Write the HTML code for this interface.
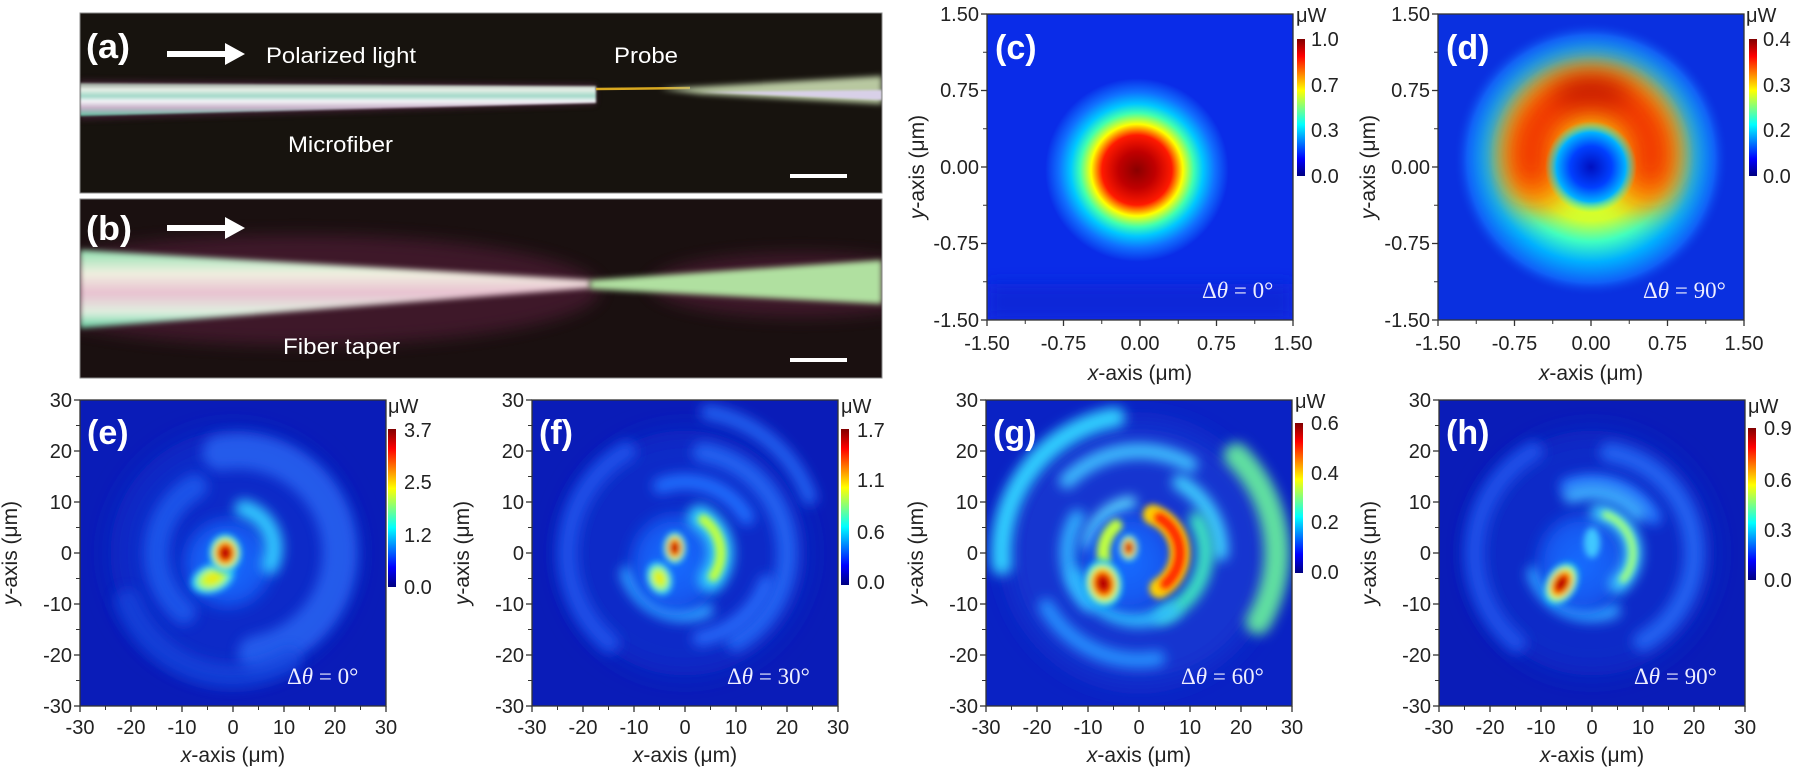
<!DOCTYPE html>
<html><head><meta charset="utf-8"><style>
html,body{margin:0;padding:0;background:#fff;width:1801px;height:773px;overflow:hidden}
svg{display:block}
text{font-family:"Liberation Sans",Arial,sans-serif}
.tk{font-size:20px;fill:#222}
.lab{font-size:21px;fill:#222}
.pl{font-size:34px;font-weight:bold;fill:#fff}
.dt{font-family:"Liberation Serif",serif;font-size:23px;fill:#eef}
.ph{font-size:22px;fill:#fff}
</style></head><body>
<svg id="s" width="1801" height="773" viewBox="0 0 1801 773" xmlns="http://www.w3.org/2000/svg">
<defs>
<linearGradient id="jet" x1="0" y1="0" x2="0" y2="1">
<stop offset="0" stop-color="#800000"/><stop offset=".125" stop-color="#ff0000"/><stop offset=".375" stop-color="#ffff00"/><stop offset=".625" stop-color="#00ffff"/><stop offset=".875" stop-color="#0000ff"/><stop offset="1" stop-color="#000080"/>
</linearGradient>
<radialGradient id="hot"><stop offset="0" stop-color="#800000"/><stop offset=".25" stop-color="#d00000"/><stop offset=".45" stop-color="#ff5000"/><stop offset=".6" stop-color="#ffff00"/><stop offset=".75" stop-color="#40ffc0"/><stop offset=".9" stop-color="#00a0ff"/><stop offset="1" stop-color="#00a0ff" stop-opacity="0"/></radialGradient>
<radialGradient id="warm"><stop offset="0" stop-color="#ffe000"/><stop offset=".45" stop-color="#c0ff40"/><stop offset=".75" stop-color="#30e0ff"/><stop offset="1" stop-color="#00a0ff" stop-opacity="0"/></radialGradient>
<radialGradient id="cg"><stop offset="0" stop-color="#8a0000"/><stop offset=".2" stop-color="#c00000"/><stop offset=".38" stop-color="#ff1a00"/><stop offset=".5" stop-color="#ffff00"/><stop offset=".62" stop-color="#40ffb0"/><stop offset=".72" stop-color="#00c8ff"/><stop offset=".85" stop-color="#1070ff"/><stop offset="1" stop-color="#0a2ce8"/></radialGradient>
<radialGradient id="dg"><stop offset="0" stop-color="#ffff00"/><stop offset=".45" stop-color="#d0ff30"/><stop offset=".6" stop-color="#40ffc0"/><stop offset=".75" stop-color="#00b0ff"/><stop offset=".9" stop-color="#1060f8"/><stop offset="1" stop-color="#0a30e0" stop-opacity="0"/></radialGradient>
<radialGradient id="hole"><stop offset="0" stop-color="#0010c0"/><stop offset=".45" stop-color="#0040ff"/><stop offset=".75" stop-color="#00b0ff"/><stop offset="1" stop-color="#40ffc0" stop-opacity="0"/></radialGradient>
<radialGradient id="halo"><stop offset="0" stop-color="#1a6cff"/><stop offset=".7" stop-color="#1458f0"/><stop offset="1" stop-color="#1458f0" stop-opacity="0"/></radialGradient>
<linearGradient id="mf" x1="0" y1="0" x2="0" y2="1"><stop offset="0" stop-color="#909890"/><stop offset=".2" stop-color="#e8f0e8"/><stop offset=".4" stop-color="#a0d8c8"/><stop offset=".55" stop-color="#f4f4f8"/><stop offset=".75" stop-color="#c8b0c8"/><stop offset="1" stop-color="#60c0a0"/></linearGradient>
<linearGradient id="tp" x1="0" y1="0" x2="0" y2="1"><stop offset="0" stop-color="#90e0b0"/><stop offset=".3" stop-color="#f0f0e0"/><stop offset=".55" stop-color="#e8c0d0"/><stop offset=".8" stop-color="#e0f0e0"/><stop offset="1" stop-color="#60d0a0"/></linearGradient>
<filter id="b1" x="-50%" y="-50%" width="200%" height="200%"><feGaussianBlur stdDeviation="1"/></filter>
<filter id="b3" x="-50%" y="-50%" width="200%" height="200%"><feGaussianBlur stdDeviation="3"/></filter>
<filter id="b8" x="-50%" y="-50%" width="200%" height="200%"><feGaussianBlur stdDeviation="8"/></filter>
<filter id="fs" filterUnits="userSpaceOnUse" x="-40" y="-40" width="80" height="80"><feGaussianBlur stdDeviation="1.2"/></filter>
<filter id="fl" filterUnits="userSpaceOnUse" x="-40" y="-40" width="80" height="80"><feGaussianBlur stdDeviation="2.5"/></filter>
<filter id="fm" filterUnits="userSpaceOnUse" x="-40" y="-40" width="80" height="80"><feGaussianBlur stdDeviation="0.6"/></filter>
<filter id="ts" filterUnits="userSpaceOnUse" x="-2" y="-2" width="4" height="4"><feGaussianBlur stdDeviation="0.07"/></filter>
<filter id="tm" filterUnits="userSpaceOnUse" x="-2" y="-2" width="4" height="4"><feGaussianBlur stdDeviation="0.13"/></filter>
<clipPath id="cp"><rect x="0" y="0" width="306" height="306"/></clipPath>
<clipPath id="cpa"><rect x="80" y="13" width="802" height="180"/></clipPath>
<clipPath id="cpb"><rect x="80" y="199" width="802" height="179"/></clipPath>
</defs>

<!-- Photo (a) -->
<g clip-path="url(#cpa)">
<rect x="80" y="13" width="802" height="180" fill="#17130e"/>
<polygon points="80,80 596,84 596,105 80,120" fill="#502040" opacity=".6" filter="url(#b3)"/>
<polygon points="80,83 596,86 596,103 80,116" fill="url(#mf)" filter="url(#b1)"/>
<line x1="596" y1="89" x2="690" y2="88" stroke="#d8a820" stroke-width="2.5"/>
<polygon points="660,89 882,76 882,104 700,94" fill="#b8c8a0" filter="url(#b3)"/>
<polygon points="700,92 882,90 882,100" fill="#d8d0e8" filter="url(#b1)"/>
</g>
<rect x="80" y="13" width="802" height="180" fill="none" stroke="#888" stroke-width="1"/>
<text class="pl" x="86" y="58" textLength="44" lengthAdjust="spacingAndGlyphs">(a)</text>
<path d="M167,51 h58 v-8 l20,11 l-20,11 v-8 h-58z" fill="#fff"/>
<text class="ph" x="266" y="63" textLength="150" lengthAdjust="spacingAndGlyphs">Polarized light</text>
<text class="ph" x="614" y="63" textLength="64" lengthAdjust="spacingAndGlyphs">Probe</text>
<text class="ph" x="288" y="152" textLength="105" lengthAdjust="spacingAndGlyphs">Microfiber</text>
<rect x="790" y="174" width="57" height="4" fill="#fff"/>

<!-- Photo (b) -->
<g clip-path="url(#cpb)">
<rect x="80" y="199" width="802" height="179" fill="#1a1010"/>
<ellipse cx="300" cy="290" rx="300" ry="55" fill="#6a2048" opacity=".45" filter="url(#b8)"/>
<ellipse cx="800" cy="285" rx="150" ry="32" fill="#6a2048" opacity=".45" filter="url(#b8)"/>
<polygon points="80,250 590,280 590,288 80,328" fill="url(#tp)" filter="url(#b3)"/>
<polygon points="590,280 882,260 882,304 590,289" fill="#b0e0a0" filter="url(#b3)"/>
</g>
<rect x="80" y="199" width="802" height="179" fill="none" stroke="#888" stroke-width="1"/>
<text class="pl" x="86" y="240" textLength="46" lengthAdjust="spacingAndGlyphs">(b)</text>
<path d="M167,225 h58 v-8 l20,11 l-20,11 v-8 h-58z" fill="#fff"/>
<text class="ph" x="283" y="354" textLength="117" lengthAdjust="spacingAndGlyphs">Fiber taper</text>
<rect x="790" y="358" width="57" height="4" fill="#fff"/>

<!-- Panel c -->
<g transform="translate(987,14)">
<g clip-path="url(#cp)">
<rect width="306" height="306" fill="#0a2ce8"/>
<rect y="270" width="306" height="36" fill="#0828d8" filter="url(#b8)"/>
<g transform="translate(153,153) scale(102,-102)">
<circle cx="-0.03" cy="-0.03" r="0.9" fill="url(#cg)"/>
</g>
</g>
<text class="pl" x="8" y="45">(c)</text>
<text class="dt" x="215" y="284">Δ<tspan font-style="italic">θ</tspan> = 0°</text>
<g class="tk" text-anchor="end"><text x="-8" y="7">1.50</text><text x="-8" y="83">0.75</text><text x="-8" y="160">0.00</text><text x="-8" y="236">-0.75</text><text x="-8" y="313">-1.50</text></g>
<g class="tk" text-anchor="middle"><text x="0" y="336">-1.50</text><text x="76.5" y="336">-0.75</text><text x="153" y="336">0.00</text><text x="229.5" y="336">0.75</text><text x="306" y="336">1.50</text></g>
<text class="lab" x="153" y="366" text-anchor="middle"><tspan font-style="italic">x</tspan>-axis (μm)</text>
<text class="lab" transform="translate(-63,153) rotate(-90)" text-anchor="middle"><tspan font-style="italic">y</tspan>-axis (μm)</text>
<rect x="310" y="25" width="8" height="137" fill="url(#jet)"/>
<text class="tk" x="309" y="8" font-size="18">μW</text>
<g class="tk"><text x="324" y="32">1.0</text><text x="324" y="78">0.7</text><text x="324" y="123">0.3</text><text x="324" y="169">0.0</text></g>
</g>

<!-- Panel d -->
<g transform="translate(1438,14)">
<g clip-path="url(#cp)">
<rect width="306" height="306" fill="#0a30e0"/>
<g transform="translate(153,153) scale(102,-102)">
<circle cx="0" cy="0.08" r="1.35" fill="url(#dg)"/>
<path id="cres" d="" fill="none" stroke="#ff9a00" stroke-width="0.62" stroke-linecap="round" filter="url(#tm)"/>
<path id="cres2" d="" fill="none" stroke="#f03000" stroke-width="0.38" stroke-linecap="round" filter="url(#tm)"/>
<path id="cres3" d="" fill="none" stroke="#a00000" stroke-width="0.14" stroke-linecap="round" filter="url(#tm)"/>
<circle cx="0" cy="0" r="0.45" fill="url(#hole)"/>
</g>
</g>
<text class="pl" x="8" y="45">(d)</text>
<text class="dt" x="205" y="284">Δ<tspan font-style="italic">θ</tspan> = 90°</text>
<g class="tk" text-anchor="end"><text x="-8" y="7">1.50</text><text x="-8" y="83">0.75</text><text x="-8" y="160">0.00</text><text x="-8" y="236">-0.75</text><text x="-8" y="313">-1.50</text></g>
<g class="tk" text-anchor="middle"><text x="0" y="336">-1.50</text><text x="76.5" y="336">-0.75</text><text x="153" y="336">0.00</text><text x="229.5" y="336">0.75</text><text x="306" y="336">1.50</text></g>
<text class="lab" x="153" y="366" text-anchor="middle"><tspan font-style="italic">x</tspan>-axis (μm)</text>
<text class="lab" transform="translate(-63,153) rotate(-90)" text-anchor="middle"><tspan font-style="italic">y</tspan>-axis (μm)</text>
<rect x="311" y="25" width="8" height="137" fill="url(#jet)"/>
<text class="tk" x="308" y="8" font-size="18">μW</text>
<g class="tk"><text x="325" y="32">0.4</text><text x="325" y="78">0.3</text><text x="325" y="123">0.2</text><text x="325" y="169">0.0</text></g>
</g>

<!-- Bottom panels -->
<g id="pe" transform="translate(80,400)">
<g clip-path="url(#cp)"><rect width="306" height="306" fill="#0a1cb8"/><g class="hm" transform="translate(153,153) scale(5.1,-5.1)"></g></g>
<text class="pl" x="7" y="44">(e)</text>
<text class="dt" x="207" y="284">Δ<tspan font-style="italic">θ</tspan> = 0°</text>
<rect x="308" y="29" width="8" height="158" fill="url(#jet)"/>
<text class="tk" x="308" y="13" font-size="18">μW</text>
<g class="tk"><text x="324" y="37">3.7</text><text x="324" y="89">2.5</text><text x="324" y="142">1.2</text><text x="324" y="194">0.0</text></g>
</g>
<g id="pf" transform="translate(532,400)">
<g clip-path="url(#cp)"><rect width="306" height="306" fill="#0a1cb8"/><g class="hm" transform="translate(153,153) scale(5.1,-5.1)"></g></g>
<text class="pl" x="7" y="44">(f)</text>
<text class="dt" x="195" y="284">Δ<tspan font-style="italic">θ</tspan> = 30°</text>
<rect x="309" y="29" width="8" height="156" fill="url(#jet)"/>
<text class="tk" x="309" y="13" font-size="18">μW</text>
<g class="tk"><text x="325" y="37">1.7</text><text x="325" y="87">1.1</text><text x="325" y="139">0.6</text><text x="325" y="189">0.0</text></g>
</g>
<g id="pg" transform="translate(986,400)">
<g clip-path="url(#cp)"><rect width="306" height="306" fill="#0a22c4"/><g class="hm" transform="translate(153,153) scale(5.1,-5.1)"></g></g>
<text class="pl" x="7" y="44">(g)</text>
<text class="dt" x="195" y="284">Δ<tspan font-style="italic">θ</tspan> = 60°</text>
<rect x="309" y="23" width="8" height="150" fill="url(#jet)"/>
<text class="tk" x="309" y="8" font-size="18">μW</text>
<g class="tk"><text x="325" y="30">0.6</text><text x="325" y="80">0.4</text><text x="325" y="129">0.2</text><text x="325" y="179">0.0</text></g>
</g>
<g id="ph" transform="translate(1439,400)">
<g clip-path="url(#cp)"><rect width="306" height="306" fill="#0a1cb8"/><g class="hm" transform="translate(153,153) scale(5.1,-5.1)"></g></g>
<text class="pl" x="7" y="44">(h)</text>
<text class="dt" x="195" y="284">Δ<tspan font-style="italic">θ</tspan> = 90°</text>
<rect x="309" y="28" width="8" height="152" fill="url(#jet)"/>
<text class="tk" x="309" y="13" font-size="18">μW</text>
<g class="tk"><text x="325" y="35">0.9</text><text x="325" y="87">0.6</text><text x="325" y="137">0.3</text><text x="325" y="187">0.0</text></g>
</g>

<!-- bottom axis labels -->
<g id="bl">
<g transform="translate(80,400)" class="tk"><g text-anchor="end"><text x="-8" y="7">30</text><text x="-8" y="58">20</text><text x="-8" y="109">10</text><text x="-8" y="160">0</text><text x="-8" y="211">-10</text><text x="-8" y="262">-20</text><text x="-8" y="313">-30</text></g><g text-anchor="middle"><text x="0" y="334">-30</text><text x="51" y="334">-20</text><text x="102" y="334">-10</text><text x="153" y="334">0</text><text x="204" y="334">10</text><text x="255" y="334">20</text><text x="306" y="334">30</text></g></g>
<g transform="translate(532,400)" class="tk"><g text-anchor="end"><text x="-8" y="7">30</text><text x="-8" y="58">20</text><text x="-8" y="109">10</text><text x="-8" y="160">0</text><text x="-8" y="211">-10</text><text x="-8" y="262">-20</text><text x="-8" y="313">-30</text></g><g text-anchor="middle"><text x="0" y="334">-30</text><text x="51" y="334">-20</text><text x="102" y="334">-10</text><text x="153" y="334">0</text><text x="204" y="334">10</text><text x="255" y="334">20</text><text x="306" y="334">30</text></g></g>
<g transform="translate(986,400)" class="tk"><g text-anchor="end"><text x="-8" y="7">30</text><text x="-8" y="58">20</text><text x="-8" y="109">10</text><text x="-8" y="160">0</text><text x="-8" y="211">-10</text><text x="-8" y="262">-20</text><text x="-8" y="313">-30</text></g><g text-anchor="middle"><text x="0" y="334">-30</text><text x="51" y="334">-20</text><text x="102" y="334">-10</text><text x="153" y="334">0</text><text x="204" y="334">10</text><text x="255" y="334">20</text><text x="306" y="334">30</text></g></g>
<g transform="translate(1439,400)" class="tk"><g text-anchor="end"><text x="-8" y="7">30</text><text x="-8" y="58">20</text><text x="-8" y="109">10</text><text x="-8" y="160">0</text><text x="-8" y="211">-10</text><text x="-8" y="262">-20</text><text x="-8" y="313">-30</text></g><g text-anchor="middle"><text x="0" y="334">-30</text><text x="51" y="334">-20</text><text x="102" y="334">-10</text><text x="153" y="334">0</text><text x="204" y="334">10</text><text x="255" y="334">20</text><text x="306" y="334">30</text></g></g>
<g class="lab" text-anchor="middle">
<text x="233" y="762"><tspan font-style="italic">x</tspan>-axis (μm)</text>
<text x="685" y="762"><tspan font-style="italic">x</tspan>-axis (μm)</text>
<text x="1139" y="762"><tspan font-style="italic">x</tspan>-axis (μm)</text>
<text x="1592" y="762"><tspan font-style="italic">x</tspan>-axis (μm)</text>
<text transform="translate(17,553) rotate(-90)"><tspan font-style="italic">y</tspan>-axis (μm)</text>
<text transform="translate(469,553) rotate(-90)"><tspan font-style="italic">y</tspan>-axis (μm)</text>
<text transform="translate(923,553) rotate(-90)"><tspan font-style="italic">y</tspan>-axis (μm)</text>
<text transform="translate(1376,553) rotate(-90)"><tspan font-style="italic">y</tspan>-axis (μm)</text>
</g>
</g>
<g id="axes"></g>
</svg>
<script>
var NS="http://www.w3.org/2000/svg";
function arcD(cx,cy,r,a0,a1){var t0=a0*Math.PI/180,t1=a1*Math.PI/180;
var x0=cx+r*Math.cos(t0),y0=cy+r*Math.sin(t0),x1=cx+r*Math.cos(t1),y1=cy+r*Math.sin(t1);
var L=Math.abs(a1-a0)>180?1:0,S=a1>a0?1:0;return "M"+x0+","+y0+" A"+r+","+r+" 0 "+L+" "+S+" "+x1+","+y1;}
function el(p,tag,at){var e=document.createElementNS(NS,tag);for(var k in at)e.setAttribute(k,at[k]);p.appendChild(e);return e;}
function A(g,cx,cy,r,a0,a1,col,w,f,op){el(g,"path",{d:arcD(cx,cy,r,a0,a1),fill:"none",stroke:col,"stroke-width":w,"stroke-linecap":"round",filter:"url(#"+(f||"fs")+")",opacity:op||1});}
function E(g,cx,cy,rx,ry,fill,rot,f){var e=el(g,"ellipse",{cx:cx,cy:cy,rx:rx,ry:ry,fill:fill});if(rot)e.setAttribute("transform","rotate("+rot+" "+cx+" "+cy+")");if(f)e.setAttribute("filter","url(#"+f+")");}
document.getElementById("cres").setAttribute("d",arcD(0,0.12,0.6,205,-25));
document.getElementById("cres2").setAttribute("d",arcD(0,0.12,0.6,195,-15));
document.getElementById("cres3").setAttribute("d",arcD(0,0.15,0.62,115,65));
// e
var g=document.querySelector("#pe .hm");
E(g,0,0,24,24,"#0e2cc8",0,"fl");
A(g,1,0,20,100,-80,"#2a68f4",7,"fs",.8);
A(g,0,0,15,120,230,"#1c58ec",5,"fs",.9);
A(g,0,-2,22,200,300,"#1848e0",5,"fs",.7);
E(g,-1,-2,10,10,"url(#halo)",0,"fs");
A(g,0,1,8,75,-25,"#30c8ff",3.5,"fs");
E(g,-4,-5,5,3.2,"url(#warm)",20,"fm");
E(g,-1.5,0,3.4,4,"url(#hot)",0,"fm");
// f
g=document.querySelector("#pf .hm");
E(g,0,0,24,24,"#0e2cc8",0,"fl");
A(g,0,0,20,-60,80,"#2060f0",4,"fs");
A(g,0,0,23,120,230,"#1a50e8",4,"fs");
A(g,0,2,26,20,80,"#2060f0",3,"fs");
A(g,0,0,14,30,110,"#2070ff",3,"fs");
A(g,0,0,12,200,290,"#30a0ff",3,"fs");
A(g,0,0,17,-80,-20,"#2868f8",3,"fs");
E(g,-2,-2,10,11,"url(#halo)",0,"fs");
A(g,-1,0,8,60,-40,"#30d0ff",5,"fs");
A(g,-1,0,8,55,-35,"#c0ff40",2,"fm");
E(g,-5,-5,2.8,3.8,"url(#warm)",20,"fm");
E(g,-2,1,2.4,3.4,"url(#hot)",0,"fm");
// g
g=document.querySelector("#pg .hm");
E(g,0,0,26,26,"#1234d0",0,"fl");
A(g,0,0,27,100,185,"#30d0ff",4,"fs");
A(g,0,0,27,-30,45,"#60e0a0",5,"fs");
A(g,0,0,20,60,135,"#40c0ff",3,"fs");
A(g,0,0,16,0,60,"#40d0ff",3,"fs");
A(g,0,0,14,150,225,"#30b0ff",3,"fs");
A(g,0,0,13,-70,30,"#40f0c0",3,"fs");
A(g,0,0,13,200,300,"#30c0ff",3,"fs");
A(g,0,0,21,210,280,"#2890ff",3,"fs");
A(g,0,0,10,100,170,"#60e0ff",2.5,"fs");
E(g,-2,-2,10,11,"url(#halo)",0,"fs");
A(g,0,0,8,70,-60,"#ffd000",4,"fm");
A(g,0,0,8,60,-50,"#ff2000",2,"fm");
A(g,0,0,7,130,190,"#c0ff40",2.5,"fm");
E(g,-7,-6,4,5,"url(#hot)",10,"fm");
E(g,-2,1,2,2.8,"url(#hot)",0,"fm");
// h
g=document.querySelector("#ph .hm");
E(g,0,0,24,24,"#0e2cc8",0,"fl");
A(g,0,0,20,-60,80,"#2060f0",4,"fs");
A(g,0,0,23,120,230,"#1a50e8",4,"fs");
A(g,0,0,14,30,110,"#2878ff",3,"fs");
A(g,0,0,12,200,290,"#30a0ff",3,"fs");
E(g,-2,-2,10,11,"url(#halo)",0,"fs");
A(g,0,0,12,40,110,"#40b0ff",3,"fs");
A(g,0,0,8,80,-50,"#40d0ff",3.5,"fs");
A(g,0,0,8,70,-40,"#a0ff80",1.5,"fm");
E(g,0,2,1.6,3,"#40c8ff",0,"fm");
E(g,-6,-6,3.2,4.8,"url(#hot)",-30,"fm");
var ax=document.getElementById("axes");
function frame(L,T,n){el(ax,"rect",{x:L,y:T,width:306,height:306,fill:"none",stroke:"#333","stroke-width":1.3});
for(var i=0;i<n;i++){var p=306*i/(n-1);el(ax,"line",{x1:L+p,y1:T+306,x2:L+p,y2:T+312,stroke:"#333","stroke-width":1.3});el(ax,"line",{x1:L-6,y1:T+p,x2:L,y2:T+p,stroke:"#333","stroke-width":1.3});
if(i<n-1){var q=p+306/(n-1)/2;el(ax,"line",{x1:L+q,y1:T+306,x2:L+q,y2:T+310,stroke:"#333","stroke-width":1});el(ax,"line",{x1:L-4,y1:T+q,x2:L,y2:T+q,stroke:"#333","stroke-width":1});}}}
frame(987,14,5);frame(1438,14,5);frame(80,400,7);frame(532,400,7);frame(986,400,7);frame(1439,400,7);
</script>
</body></html>
